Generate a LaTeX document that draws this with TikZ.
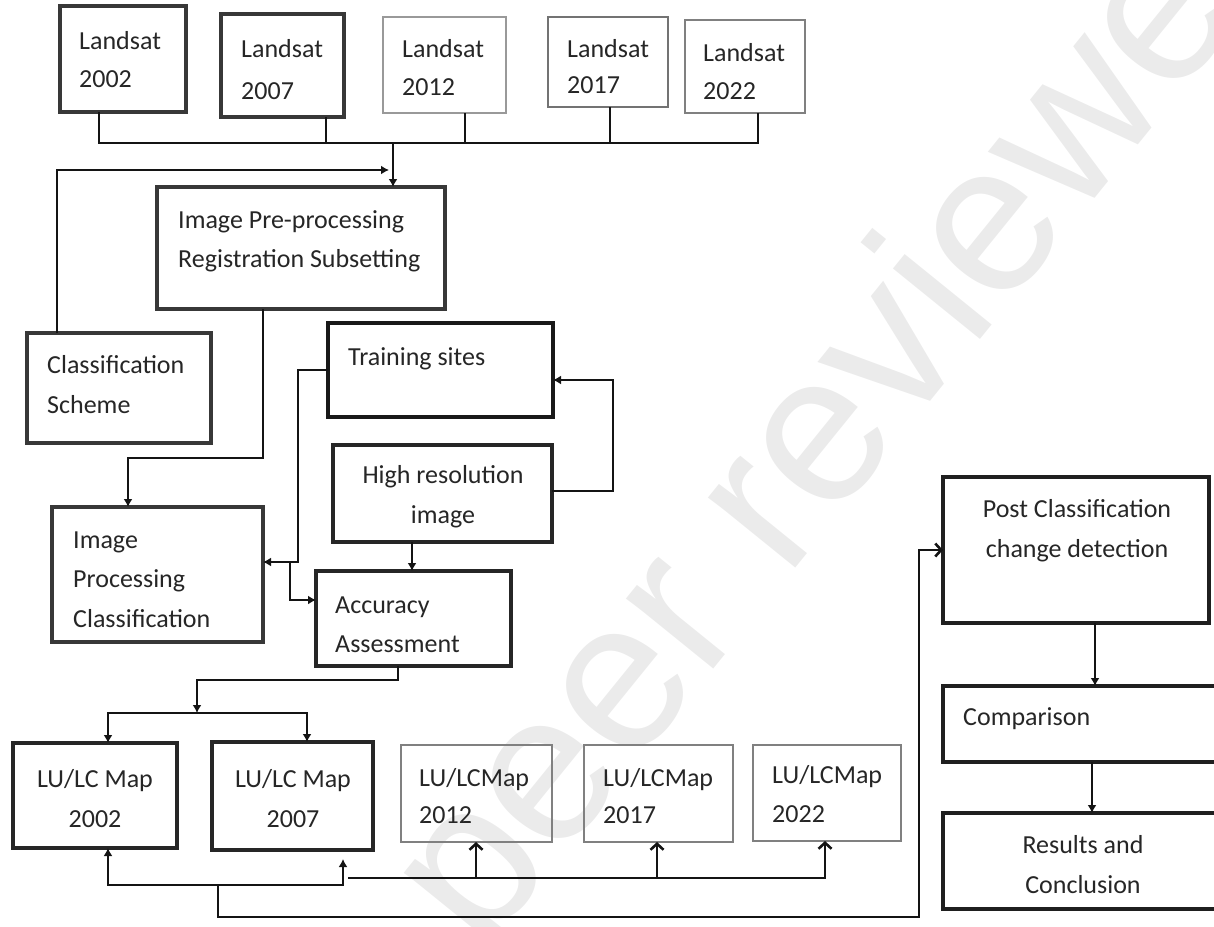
\documentclass[tikz,border=0pt]{standalone}
\usepackage{fontspec}
\setmainfont{Carlito}
\newfontfamily\wmfont{Liberation Sans}
\usetikzlibrary{arrows.meta}
\begin{document}
\begin{tikzpicture}[x=1pt,y=-1pt,
  box/.style={draw=black!78, line width=3.5pt, anchor=north west, inner sep=0pt, outer sep=0pt},
  tbox/.style={draw=black!50, line width=2.6pt, anchor=north west, inner sep=0pt, outer sep=0pt},
  txt/.style={font=\fontsize{26}{39}\selectfont, inner sep=0pt, anchor=base west, align=left, text=black!85},
  ctxt/.style={txt, anchor=base, align=center},
  line/.style={line width=2.6pt, draw=black!92},
  arr/.style={line, -{Latex[length=8pt,width=9pt]}},
  oarr/.style={line, -{Straight Barb[length=6pt,width=13pt]}}
]
\useasboundingbox (0,0) rectangle (1214,926);
% watermark
\node[rotate=51, anchor=base west, inner sep=0pt, font=\wmfont\fontsize{212}{212}\selectfont, text=black!8] (wm) at (482,955) {peer reviewed};

% Landsat boxes
\node[box, minimum width=126pt, minimum height=106pt] (l02) at (60,6) {};
\node[box, minimum width=123pt, minimum height=103pt] (l07) at (221,14) {};
\node[tbox, draw=black!40, minimum width=123pt, minimum height=96pt] (l12) at (383,17) {};
\node[tbox, draw=black!55, minimum width=120pt, minimum height=90pt] (l17) at (548,17) {};
\node[tbox, minimum width=120pt, minimum height=93pt] (l22) at (685,20) {};
\node[txt, font=\fontsize{26}{38}\selectfont] (t02) at (79,87) {Landsat\\2002};
\node[txt, font=\fontsize{26}{42}\selectfont] (t07) at (241,99) {Landsat\\2007};
\node[txt, font=\fontsize{26}{38}\selectfont] (t12) at (402,95) {Landsat\\2012};
\node[txt, font=\fontsize{26}{36}\selectfont] (t17) at (567,93) {Landsat\\2017};
\node[txt, font=\fontsize{26}{38}\selectfont] (t22) at (703,99) {Landsat\\2022};

% middle boxes
\node[box, minimum width=288pt, minimum height=122pt] (pre) at (157,187) {};
\node[txt] (tpre) at (178,267) {Image Pre-processing\\Registration Subsetting};
\node[box, minimum width=184pt, minimum height=110pt] (cls) at (27,333) {};
\node[txt, font=\fontsize{26}{40}\selectfont] (tcls) at (47,413) {Classification\\Scheme};
\node[box, draw=black!90, minimum width=225pt, minimum height=94pt] (trn) at (328,323) {};
\node[txt] (ttrn) at (348,365) {Training sites};
\node[box, draw=black!85, minimum width=219pt, minimum height=97pt] (hri) at (333,445) {};
\node[ctxt, font=\fontsize{26}{40}\selectfont] (thri) at (443,523) {High resolution\\image};
\node[box, minimum width=211pt, minimum height=135pt] (ipc) at (52,507) {};
\node[txt, font=\fontsize{26}{39.5}\selectfont] (tipc) at (73,627) {Image\\Processing\\Classification};
\node[box, draw=black!85, minimum width=195pt, minimum height=95pt] (acc) at (316,571) {};
\node[txt] (tacc) at (335,652) {Accuracy\\Assessment};

% LU/LC maps
\node[box, draw=black!85, minimum width=164pt, minimum height=105pt] (m02) at (13,743) {};
\node[box, draw=black!85, minimum width=161pt, minimum height=108pt] (m07) at (212,742) {};
\node[tbox, minimum width=151pt, minimum height=97pt] (m12) at (401,745) {};
\node[tbox, minimum width=149pt, minimum height=97pt] (m17) at (584,745) {};
\node[tbox, minimum width=148pt, minimum height=96pt] (m22) at (753,745) {};
\node[ctxt, font=\fontsize{26}{40}\selectfont] (tm02) at (95,827) {LU/LC Map\\2002};
\node[ctxt, font=\fontsize{26}{40}\selectfont] (tm07) at (293,827) {LU/LC Map\\2007};
\node[txt, font=\fontsize{26}{37}\selectfont] (tm12) at (419,823) {LU/LCMap\\2012};
\node[txt, font=\fontsize{26}{37}\selectfont] (tm17) at (603,823) {LU/LCMap\\2017};
\node[txt, font=\fontsize{26}{39}\selectfont] (tm22) at (772,822) {LU/LCMap\\2022};

% right column
\node[box, draw=black!88, minimum width=266pt, minimum height=146pt] (pcd) at (943,477) {};
\node[ctxt, font=\fontsize{26}{40}\selectfont] (tpcd) at (1077,557) {Post Classification\\change detection};
\node[box, draw=black!88, minimum width=280pt, minimum height=76pt] (cmp) at (943,686) {};
\node[txt] (tcmp) at (963,725) {Comparison};
\node[box, draw=black!88, minimum width=280pt, minimum height=96pt] (res) at (943,813) {};
\node[ctxt, font=\fontsize{26}{40}\selectfont] (tres) at (1083,893) {Results and\\Conclusion};

% Landsat bus
\coordinate (bus) at (0,143);
\coordinate (f02) at ([xshift=39pt]l02.south west);
\coordinate (f07) at ([xshift=105pt]l07.south west);
\coordinate (f12) at ([xshift=82pt]l12.south west);
\coordinate (f17) at ([xshift=62pt]l17.south west);
\coordinate (f22) at ([xshift=73pt]l22.south west);
\draw[line] (f02) |- (f22 |- bus) -- (f22);
\foreach \f in {f07,f12,f17} \draw[line] (\f) -- (\f |- bus);
\coordinate (pin) at ([xshift=236pt]pre.north west);
\draw[arr] (pin |- bus) -- (pin);
\coordinate (cin) at ([xshift=-4pt,yshift=17pt]pin);
\draw[arr] ([xshift=30pt]cls.north west) |- (cin);

% pre-processing to classification
\draw[arr] ([xshift=106pt]pre.south west) -- ++(0,149) -| ([xshift=76pt]ipc.north west);
\coordinate (ipin) at ([yshift=-55pt]ipc.north east);
\draw[arr] (trn.west) -- ++(-30,0) |- (ipin);
\coordinate (aain) at ([yshift=-29pt]acc.north west);
\draw[arr] ([xshift=27pt]ipin) |- (aain);
\draw[arr] ([yshift=-46pt]hri.north east) -- ++(61,0) |- ([yshift=-57pt]trn.north east);
\coordinate (hout) at ([xshift=79pt]hri.south west);
\draw[arr] (hout) -- (hout |- acc.north);

% accuracy to maps
\coordinate (split) at (197,713);
\draw[arr] ([xshift=82pt]acc.south west) -- ++(0,14) -| (split);
\draw[arr] (split) -| ([xshift=95pt]m02.north west);
\draw[arr] (split) -| ([xshift=95pt]m07.north west);

% bottom connectors
\coordinate (hub) at (218,885);
\draw[arr] (hub) -| ([xshift=95pt]m02.south west);
\draw[arr] (hub) -| ([xshift=131pt,yshift=-9pt]m07.south west);
\coordinate (bus2) at (348,878);
\draw[oarr] (bus2) -| ([xshift=72pt]m22.south west);
\coordinate (g12) at ([xshift=75pt]m12.south west);
\coordinate (g17) at ([xshift=73pt]m17.south west);
\draw[oarr] (g12 |- bus2) -- (g12);
\draw[oarr] (g17 |- bus2) -- (g17);
\draw[oarr] (hub) |- (919,917) |- (pcd.west);

% right column
\coordinate (p2c) at ([xshift=152pt]pcd.south west);
\draw[arr] (p2c) -- (p2c |- cmp.north);
\coordinate (c2r) at ([xshift=149pt]cmp.south west);
\draw[arr] (c2r) -- (c2r |- res.north);
\end{tikzpicture}
\end{document}
